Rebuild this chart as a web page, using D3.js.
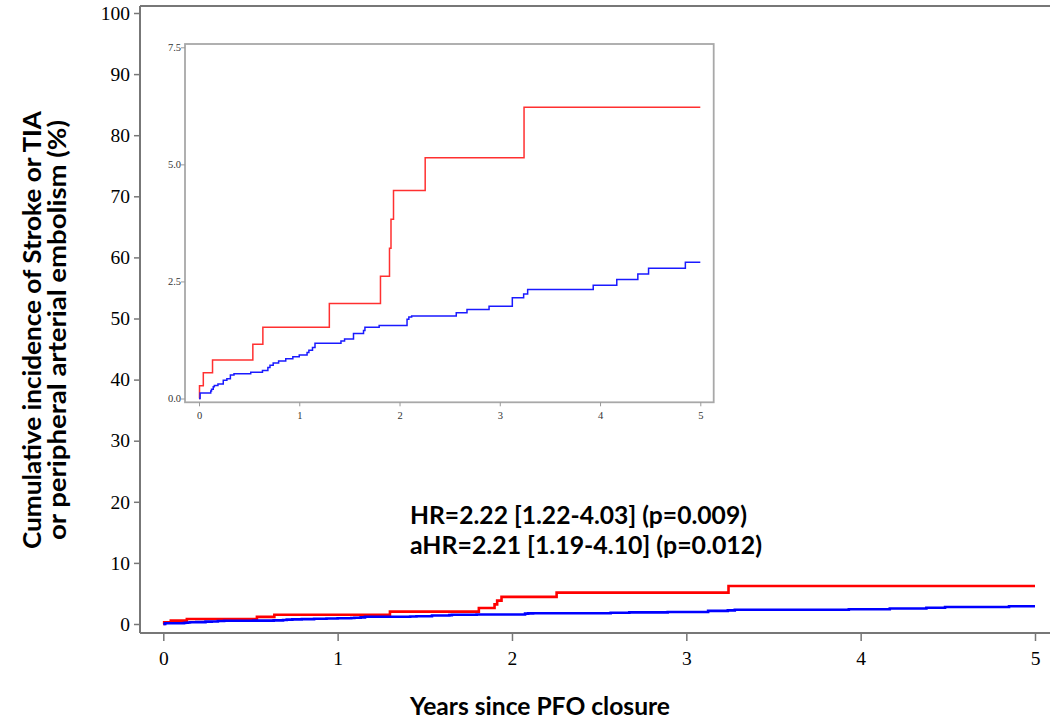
<!DOCTYPE html>
<html>
<head>
<meta charset="utf-8">
<script src="https://cdn.jsdelivr.net/npm/d3@7"></script>
<style>
  html, body { margin: 0; padding: 0; background: #fff; }
  svg { display: block; }
</style>
</head>
<body>
<svg id="chart" width="1050" height="722"></svg>
<script>
// ---- data ----
const mainXTicks = [0, 1, 2, 3, 4, 5];
const mainYTicks = [0, 10, 20, 30, 40, 50, 60, 70, 80, 90, 100];
const insetXTicks = [0, 1, 2, 3, 4, 5];
const insetYTicks = [0, 2.5, 5, 7.5];

const redTimes  = [0, 0.005, 0.043, 0.135, 0.537, 0.637, 1.30, 1.81, 1.90, 1.915, 1.94, 2.256, 3.242, 5.0];
const redValues = [0, 0.27, 0.55, 0.82, 1.16, 1.52, 2.03, 2.61, 3.21, 3.83, 4.44, 5.14, 6.22, 6.22];

const blueTimes  = [0, 0.011, 0.117, 0.125, 0.142, 0.153, 0.189, 0.242, 0.278, 0.313, 0.349, 0.516, 0.633, 0.687, 0.708, 0.740, 0.794, 0.865, 0.936, 1.000, 1.078, 1.096, 1.132, 1.157, 1.416, 1.452, 1.541, 1.641, 1.655, 1.797, 2.075, 2.093, 2.121, 2.566, 2.673, 2.893, 3.125, 3.238, 3.278, 3.932, 4.167, 4.377, 4.484, 4.851, 5.0];
const blueValues = [0, 0.12, 0.16, 0.20, 0.25, 0.28, 0.31, 0.39, 0.42, 0.50, 0.53, 0.56, 0.60, 0.66, 0.71, 0.76, 0.80, 0.85, 0.89, 0.93, 0.98, 1.03, 1.09, 1.18, 1.23, 1.27, 1.39, 1.45, 1.52, 1.56, 1.69, 1.74, 1.76, 1.83, 1.90, 1.97, 2.15, 2.23, 2.33, 2.42, 2.54, 2.66, 2.78, 2.91, 2.91];

const annotLines = ["HR=2.22 [1.22-4.03] (p=0.009)", "aHR=2.21 [1.19-4.10] (p=0.012)"];
const yTitleLines = ["Cumulative incidence of Stroke or TIA", "or peripheral arterial embolism (%)"];
const xTitle = "Years since PFO closure";

const redPts = redTimes.map((t, i) => [t, redValues[i]]);
const bluePts = blueTimes.map((t, i) => [t, blueValues[i]]);

// ---- drawing ----
const svg = d3.select("#chart");
const serif = "'Liberation Serif', 'Times New Roman', serif";
const sans = "Lato, 'Open Sans', sans-serif";
const axisCol = "#777";

// main scales
const x = d3.scaleLinear().domain([0, 5]).range([163.3, 1035]);
const y = d3.scaleLinear().domain([0, 100]).range([624, 13]);
const mainLeft = 140, mainBottom = 633, mainTop = 6;

// main frame
svg.append("line").attr("x1", mainLeft).attr("x2", 1050).attr("y1", mainTop).attr("y2", mainTop)
  .attr("stroke", axisCol).attr("stroke-width", 2);

const xAxis = svg.append("g").attr("transform", `translate(0,${mainBottom})`)
  .call(d3.axisBottom(x).tickValues(mainXTicks).tickFormat(d3.format("d")).tickSize(8).tickSizeOuter(0));
xAxis.select(".domain").attr("d", `M${mainLeft},0H1050`);
const yAxis = svg.append("g").attr("transform", `translate(${mainLeft},0)`)
  .call(d3.axisLeft(y).tickValues(mainYTicks).tickFormat(d3.format("d")).tickSize(6).tickSizeOuter(0));
yAxis.select(".domain").attr("d", `M0,${mainTop}V${mainBottom}`);
[xAxis, yAxis].forEach(g => {
  g.selectAll(".domain").attr("stroke", axisCol).attr("stroke-width", 2);
  g.selectAll(".tick line").attr("stroke", axisCol).attr("stroke-width", 1.5);
  g.selectAll(".tick text").attr("fill", "#000").style("font-family", serif).style("font-size", "19.5px");
});
xAxis.selectAll(".tick text").attr("y", 18);
yAxis.selectAll(".tick text").attr("x", -10);

const mainLine = d3.line().x(d => x(d[0])).y(d => y(d[1])).curve(d3.curveStepAfter);
svg.append("path").datum(redPts).attr("d", mainLine).attr("fill", "none")
  .attr("stroke", "#ff0000").attr("stroke-width", 2.6);
svg.append("path").datum(bluePts).attr("d", mainLine).attr("fill", "none")
  .attr("stroke", "#0000ff").attr("stroke-width", 2.6);

// inset
const ix = d3.scaleLinear().domain([0, 5]).range([199, 700.3]);
const iy = d3.scaleLinear().domain([0, 7.5]).range([398.5, 47.3]);
const iL = 185, iR = 713.7, iT = 44, iB = 402.3;
svg.append("rect").attr("x", iL).attr("y", iT).attr("width", iR - iL).attr("height", iB - iT)
  .attr("fill", "#fff").attr("stroke", "#a8a8a8").attr("stroke-width", 1.8);

const ixAxis = svg.append("g").attr("transform", `translate(0,${iB})`)
  .call(d3.axisBottom(ix).tickValues(insetXTicks).tickFormat(d3.format("d")).tickSize(4).tickSizeOuter(0));
ixAxis.select(".domain").remove();
const iyAxis = svg.append("g").attr("transform", `translate(${iL},0)`)
  .call(d3.axisLeft(iy).tickValues(insetYTicks).tickFormat(d3.format(".1f")).tickSize(4).tickSizeOuter(0));
iyAxis.select(".domain").remove();
[ixAxis, iyAxis].forEach(g => {
  g.selectAll(".tick line").attr("stroke", "#999").attr("stroke-width", 1);
  g.selectAll(".tick text").attr("fill", "#333").style("font-family", serif).style("font-size", "10.5px");
});
ixAxis.selectAll(".tick text").attr("y", 9);
iyAxis.selectAll(".tick text").attr("x", -4);

const insetLine = d3.line().x(d => ix(d[0])).y(d => iy(d[1])).curve(d3.curveStepAfter);
svg.append("path").datum(redPts).attr("d", insetLine).attr("fill", "none")
  .attr("stroke", "#ff3030").attr("stroke-width", 1.5);
svg.append("path").datum(bluePts).attr("d", insetLine).attr("fill", "none")
  .attr("stroke", "#1a1aff").attr("stroke-width", 1.5);

// annotation
const annotWidths = [337, 352];
svg.selectAll("text.annot").data(annotLines).enter().append("text")
  .attr("class", "annot")
  .attr("x", 410).attr("y", (d, i) => 524 + i * 30)
  .attr("textLength", (d, i) => annotWidths[i]).attr("lengthAdjust", "spacingAndGlyphs")
  .style("font-family", sans).style("font-weight", "bold").style("font-size", "24px")
  .text(d => d);

// axis titles
svg.append("text").attr("x", 410).attr("y", 715)
  .attr("textLength", 260).attr("lengthAdjust", "spacingAndGlyphs")
  .style("font-family", sans).style("font-weight", "bold").style("font-size", "24px")
  .text(xTitle);
const yTitleLens = [438, 420];
svg.selectAll("text.ytitle").data(yTitleLines).enter().append("text")
  .attr("class", "ytitle")
  .attr("transform", (d, i) => `translate(${41 + i * 25},330) rotate(-90)`)
  .attr("text-anchor", "middle")
  .attr("textLength", (d, i) => yTitleLens[i]).attr("lengthAdjust", "spacingAndGlyphs")
  .style("font-family", sans).style("font-weight", "bold").style("font-size", "24px")
  .text(d => d);
</script>
</body>
</html>
